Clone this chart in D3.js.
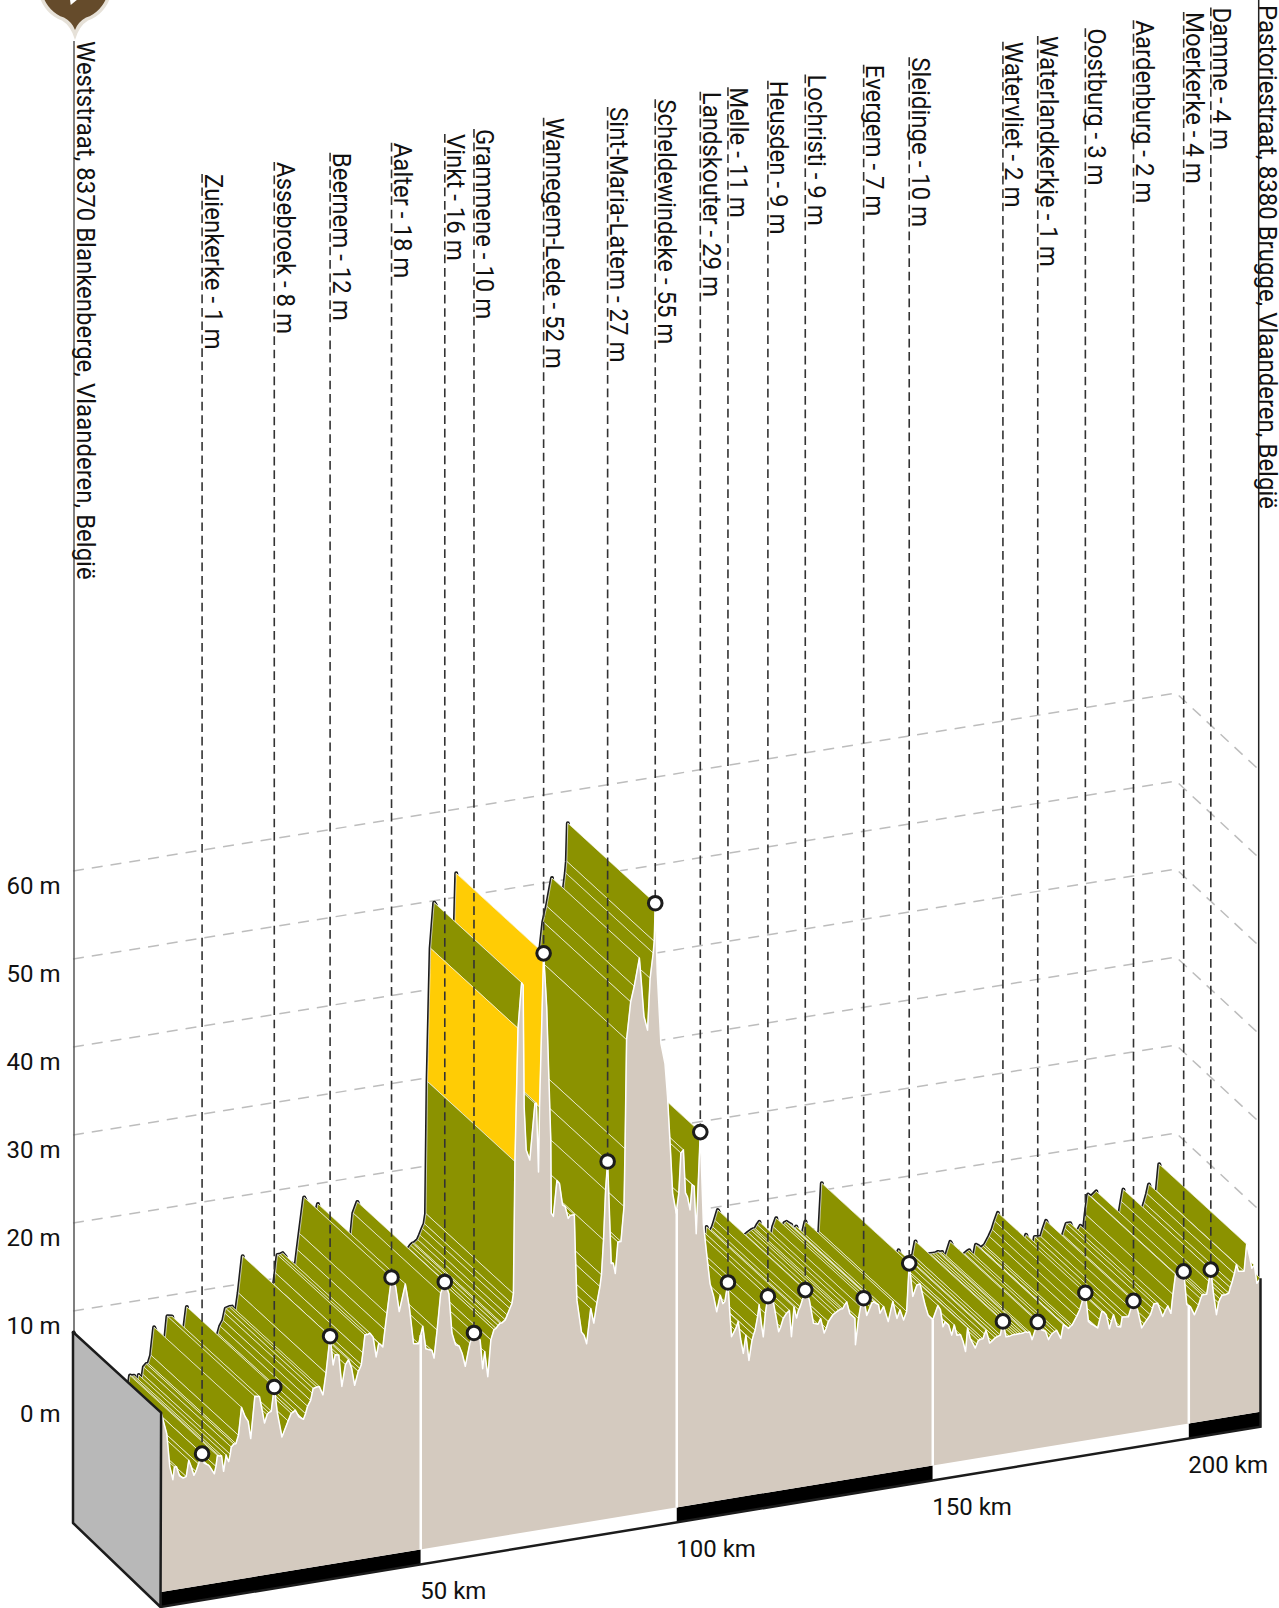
<!DOCTYPE html>
<html>
<head>
<meta charset="utf-8">
<style>
  html, body { margin: 0; padding: 0; background: #fff; overflow: hidden; }
  svg { display: block; font-family: Roboto, sans-serif; }
</style>
</head>
<body>
<svg width="1279" height="1608"></svg>
<script src="https://d3js.org/d3.v7.min.js"></script>
<script>
// route profile: km along the route / metres
var readKm = [-0.7,0.4,1.0,1.6,1.9,2.3,2.9,3.6,4.2,4.7,5.2,5.7,6.6,7.3,8.2,8.8,9.7,10.3,11.1,11.5,12.0,12.5,13.0,13.9,14.4,15.0,15.7,16.3,16.8,17.6,18.5,18.9,19.5,20.3,20.8,21.4,22.0,22.9,24.1,24.7,25.5,26.2,27.1,27.9,28.5,29.0,30.2,30.9,31.5,32.3,32.9,33.3,34.0,34.6,35.9,36.5,37.1,37.8,38.4,39.1,40.1,40.7,41.3,41.8,42.6,43.4,44.3,45.1,45.8,47.0,47.8,48.6,49.6,50.4,51.0,
  52.2,52.6,53.2,53.9,54.7,55.5,56.1,56.8,57.5,58.1,58.7,59.6,60.4,61.6,62.1,62.5,63.1,63.7,64.3,65.5,66.5,67.4,68.1,68.4,69.0,69.7,70.0,70.2,70.6,71.3,72.3,72.6,73.0,73.2,74.0,74.6,75.4,75.5,75.9,76.6,77.1,77.7,78.2,78.8,79.2,80.0,80.2,80.5,81.4,81.9,82.4,83.2,83.8,85.0,85.7,86.1,86.5,87.0,87.2,87.6,88.0,88.5,89.1,89.7,90.2,91.0,91.7,92.7,93.1,93.6,94.3,94.8,95.4,95.8,96.2,96.9,97.7,98.2,98.7,99.2,99.9,100.4,100.8,101.3,101.7,102.1,102.6,103.0,103.4,103.8,104.6,
  105.2,105.9,106.5,107.2,107.8,108.5,109.0,109.4,110.0,110.4,110.7,111.4,112.0,112.5,113.0,113.5,114.1,114.7,115.3,116.1,116.9,117.8,118.9,119.4,119.9,120.8,122.0,122.4,122.9,123.4,124.1,125.1,125.9,126.7,127.6,128.1,128.8,129.6,130.5,131.6,132.4,133.2,133.8,134.8,134.9,135.5,136.5,137.1,137.8,138.5,139.4,139.7,140.4,141.3,142.2,143.0,143.6,144.3,144.9,145.4,146.1,146.9,147.5,148.5,149.1,150.0,
  151.0,151.5,152.0,152.4,153.1,153.7,154.2,154.7,155.4,155.9,156.4,156.8,157.3,158.3,158.9,159.8,160.4,161.1,162.2,163.2,163.7,164.3,165.6,167.1,168.9,169.4,170.5,171.3,172.0,172.6,173.3,174.2,175.0,175.5,176.5,177.2,178.1,179.8,180.4,181.4,182.2,183.0,183.9,184.5,185.3,186.0,186.7,187.0,188.2,189.2,190.0,190.8,191.8,192.5,193.2,193.9,194.9,195.9,196.5,197.4,198.0,199.0,199.6,200.3,201.1,201.9,202.6,203.5,204.3,204.8,205.4,205.8,206.5,207.8,208.4,209.3,209.7,210.8,211.3,211.9,212.3,212.8,213.3,214.0];
var readM = [6.6,4.1,0.3,-1.2,0.2,0.2,-0.9,-1.2,-1.1,0.7,-0.1,-1.1,0.1,1.2,-0.1,-0.4,-1.3,0.7,0.6,-1.2,0.6,-0.2,1.4,1.7,2.6,5.7,4.6,4.0,2.0,6.7,6.6,5.4,3.5,4.6,4.7,7.4,4.4,1.6,3.3,4.1,4.4,3.6,3.2,4.6,5.2,6.5,6.6,5.6,8.0,12.1,8.8,9.9,9.8,6.2,9.1,8.1,6.1,7.6,8.3,11.6,11.7,11.2,8.9,10.4,9.9,13.6,17.6,16.5,13.6,16.6,13.8,9.7,9.6,11.5,8.9,
  8.6,7.7,10.8,14.9,16.1,14.7,10.2,8.8,8.6,7.7,6.2,8.7,9.8,8.9,5.6,7.5,4.6,8.7,9.8,10.4,10.7,11.9,13.5,28.4,43.4,48.5,48.2,34.4,29.5,28.3,34.6,34.6,26.8,34.1,51.4,45.3,30.2,21.9,21.5,25.5,25.1,22.6,22.4,21.0,21.3,21.3,16.9,11.6,7.9,7.5,6.5,10.4,8.7,12.7,17.9,23.5,26.7,18.5,15.1,15.1,13.9,17.4,17.4,21.3,40.1,44.3,46.0,49.1,46.2,42.4,40.8,46.6,49.4,55.0,47.0,39.1,36.7,32.9,27.6,21.9,19.6,21.8,26.3,26.6,21.7,21.2,19.7,22.5,22.3,16.9,28.3,
  17.9,14.1,11.0,9.5,7.7,9.5,8.5,8.7,10.8,6.9,4.6,5.3,6.2,4.1,2.5,4.5,1.6,3.8,4.9,7.7,4.0,8.5,7.6,6.0,4.3,5.7,6.5,3.5,6.8,5.5,6.7,8.5,7.3,4.6,4.4,5.0,3.3,4.5,5.2,5.6,5.7,6.4,5.0,4.4,1.4,4.3,6.5,4.5,5.4,5.9,5.5,4.5,5.2,3.4,5.6,3.6,4.5,3.3,4.2,9.6,5.8,7.0,7.1,4.6,3.4,2.8,
  4.3,3.8,1.8,2.3,1.9,0.7,1.8,0.6,0.6,-0.2,-1.4,1.2,0,-1.2,-0.4,-0.3,0.6,-0.9,-0.4,-0.2,1.3,-0.5,-0.4,-0.4,-0.4,-1.3,0.6,-0.4,-0.6,-1.6,-1.0,-0.7,-1.7,-0.2,-0.7,-0.4,0.5,3.0,-0.3,-0.8,-1.2,0.6,0.1,-1.5,0,-1.4,-1.5,-0.4,-0.5,1.2,0.1,-2.0,-1.2,-0.7,0.5,0.5,-1.1,0,-0.9,3.4,3.1,3.6,-0.2,-0.5,-1.5,-0.5,0.6,0.6,3.3,0.6,-1.9,-0.6,0.2,0.3,1.4,3.4,2.6,2.5,5.5,4.0,2.7,3.0,0.9,1.4];

// second pass of readings, where the picture shows the hatching closer together
var moreKm = [6.1,7.7,8.5,9.4,10.0,10.7,12.2,12.8,13.5,20.0,25.1,26.6,27.5,28.8,29.7,35.3,38.1,38.7,39.6,42.2,43.0,64.7,65.1,65.8,66.9,67.8,84.4,85.3,89.9,95.6,
  111.7,115.0,115.8,116.5,117.3,120.3,121.4,123.8,124.5,129.2,131.0,132.0,132.8,135.9,138.1,138.9,
  152.8,155.0,157.8,158.6,159.3,160.1,160.8,161.6,162.7,164.9,166.1,166.6,167.6,168.1,168.5,170.9,173.0,173.8,176.0,176.9,178.7,179.2,
  180.9,181.8,182.6,183.4,184.9,188.7,191.3,192.9,194.4,195.4,196.9,200.7,202.3,203.0,203.9,206.1,207.1,208.1,208.9];
var moreM = [-0.7,0.1,-0.2,-1.0,-0.5,0.6,0.2,0.6,1.7,4.4,4.2,3.4,3.8,6.0,6.6,8.6,7.9,9.6,11.6,10.2,11.8,9.9,10.2,10.4,11.2,12.4,10.9,14.0,27.8,50.7,
  5.7,4.4,6.4,5.6,6.6,4.8,6.2,6.4,7.4,3.8,5.4,5.7,6.1,5.6,5.8,5.7,
  2.1,0.6,-0.6,-0.8,-0.3,0.2,-0.2,-0.7,-0.3,-0.5,-0.4,-0.4,-0.4,-0.3,-0.4,0.1,-1.2,-0.8,-0.4,-0.5,1.2,2.1,
  -0.6,-1.0,-0.3,0.5,-0.7,0.4,-1.6,0,-0.3,-0.5,1.2,-1.0,0.2,0.6,2.0,-0.2,0.2,0.9,2.4];

// the two steep stretches drawn yellow (km where the stretch starts)
var steepKm = [68.4, 73.2];

var placeNames = ["Zuienkerke - 1 m","Assebroek - 8 m","Beernem - 12 m","Aalter - 18 m","Vinkt - 16 m","Grammene - 10 m","Wannegem-Lede - 52 m","Sint-Maria-Latem - 27 m","Scheldewindeke - 55 m","Landskouter - 29 m","Melle - 11 m","Heusden - 9 m","Lochristi - 9 m","Evergem - 7 m","Sleidinge - 10 m","Watervliet - 2 m","Waterlandkerkje - 1 m","Oostburg - 3 m","Aardenburg - 2 m","Moerkerke - 4 m","Damme - 4 m"];
var placeKm = [7.3,21.4,32.3,44.3,54.7,60.4,74.0,86.5,95.8,104.6,110.0,117.8,125.1,136.5,145.4,163.7,170.5,179.8,189.2,199.0,204.3];

var kmTicks = [50,100,150,200];
var elevTicks = [0,10,20,30,40,50,60];
var gridElev = [10,20,30,40,50,60];
var startName = "Weststraat, 8370 Blankenberge, Vlaanderen, België";
var endName = "Pastoriestraat, 8380 Brugge, Vlaanderen, België";

// merge both passes, in km order
var allKm = readKm.concat(moreKm), allM = readM.concat(moreM);
var order = d3.range(allKm.length).sort(function(a,b){ return allKm[a]-allKm[b]; });
var profileKm = order.map(function(i){ return allKm[i]; });
var profileM = order.map(function(i){ return allM[i]; });

var svg = d3.select("svg");

var x = d3.scaleLinear().domain([0,200]).range([164.7,1188.8]);
// height of a point above the slanted base line
var h = d3.scaleLinear().domain([0,60]).range([136,667]);
// elevation on the back wall, left side
var gridY = d3.scaleLinear().domain([0,60]).range([1399,871]);

var depth = [-87.4,-80];
var kmStart = profileKm[0], kmEnd = profileKm[profileKm.length-1];

function baseY(km){ return 1607 - 0.164*(x(km)-161); }
function front(i){ return [x(profileKm[i]), baseY(profileKm[i]) - h(profileM[i])]; }
function back(i){ var p = front(i); return [p[0]+depth[0], p[1]+depth[1]]; }
function elevAt(km){
  var i = d3.bisectLeft(profileKm, km);
  if (i == 0) return profileM[0];
  if (i >= profileKm.length) return profileM[profileM.length-1];
  var t = (km-profileKm[i-1])/(profileKm[i]-profileKm[i-1]);
  return profileM[i-1] + t*(profileM[i]-profileM[i-1]);
}

var idx = d3.range(profileKm.length);
var line = d3.line();

// back wall grid
svg.append("g").selectAll("path").data(gridElev).enter().append("path")
  .attr("d", function(d){
    var y0 = gridY(d);
    return line([[73,y0],[1176,y0-178],[1257,y0-103]]);
  })
  .attr("fill","none").attr("stroke","#bdbdbd").attr("stroke-width",1.5).attr("stroke-dasharray","11,8");

// outer verticals
svg.append("line").attr("x1",74).attr("x2",74).attr("y1",41).attr("y2",1332).attr("stroke","#555").attr("stroke-width",1.5);
svg.append("line").attr("x1",1258.7).attr("x2",1258.7).attr("y1",0).attr("y2",front(idx.length-1)[1]).attr("stroke","#222").attr("stroke-width",1.5);

// top edge of the ribbon, the polygons then cover its inner half
svg.append("path").attr("d", line(idx.map(back)))
  .attr("fill","none").attr("stroke","#1c1c1c").attr("stroke-width",4).attr("stroke-linejoin","round").attr("stroke-linecap","round");

// ribbon: nearest km is painted last
var segs = d3.range(idx.length-1).reverse();
svg.append("g").selectAll("path").data(segs).enter().append("path")
  .attr("d", function(i){ return line([front(i),front(i+1),back(i+1),back(i)])+"Z"; })
  .attr("fill", function(i){ return steepKm.indexOf(profileKm[i])>=0 ? "#ffcc05" : "#8b9200"; })
  .attr("stroke","#fff").attr("stroke-width",0.75).attr("stroke-opacity",0.85).attr("stroke-linejoin","round");

// km strip under the front face
var stripH = 15;
var bands = [[kmStart,50,"#000"],[50,100,"#fff"],[100,150,"#000"],[150,200,"#fff"],[200,kmEnd,"#000"]];
svg.append("g").selectAll("path").data(bands).enter().append("path")
  .attr("d", function(b){
    return line([[x(b[0]),baseY(b[0])],[x(b[1]),baseY(b[1])],[x(b[1]),baseY(b[1])-stripH],[x(b[0]),baseY(b[0])-stripH]])+"Z";
  })
  .attr("fill", function(b){ return b[2]; });

// front face
var areaPts = idx.map(front).concat([[x(kmEnd),baseY(kmEnd)-stripH],[x(kmStart),baseY(kmStart)-stripH]]);
svg.append("path").attr("d", line(areaPts)+"Z").attr("fill","#d4cabf");
svg.append("path").attr("d", line(idx.map(front))).attr("fill","none").attr("stroke","#fff").attr("stroke-width",1.5).attr("stroke-linejoin","round");

// white km lines on the front face
svg.append("g").selectAll("line").data(kmTicks).enter().append("line")
  .attr("x1",function(d){ return x(d); }).attr("x2",function(d){ return x(d); })
  .attr("y1",function(d){ return baseY(d)-h(elevAt(d)); })
  .attr("y2",function(d){ return baseY(d)-stripH; })
  .attr("stroke","#fff").attr("stroke-width",2.5);

// end wall
svg.append("path").attr("d", line([[73,1332],front(0),[160.5,baseY(kmStart)],[73,1523]])+"Z")
  .attr("fill","#b8b8b8").attr("stroke","#1c1c1c").attr("stroke-width",2.5).attr("stroke-linejoin","round");

// base edge and right end
svg.append("path").attr("d", line([[160.5,baseY(kmStart)],[x(kmEnd),baseY(kmEnd)],front(idx.length-1)]))
  .attr("fill","none").attr("stroke","#1c1c1c").attr("stroke-width",2.5);

// places: dashed drop lines, names, markers
function labelY(px){ return 174 - 0.165*(px-202); }
// the names are narrower than plain Roboto at this height
function nameTransform(px, py){ return "translate("+px+","+py+") rotate(90) scale(0.905,1)"; }

var places = svg.append("g").selectAll("g").data(placeKm).enter().append("g");
places.append("line")
  .attr("x1",function(d){ return x(d); }).attr("x2",function(d){ return x(d); })
  .attr("y1",function(d){ return labelY(x(d)); })
  .attr("y2",function(d){ return baseY(d)-h(elevAt(d)); })
  .attr("stroke","#333").attr("stroke-width",1.6).attr("stroke-dasharray","8.7,4.7");
places.append("circle")
  .attr("cx",function(d){ return x(d); })
  .attr("cy",function(d){ return baseY(d)-h(elevAt(d)); })
  .attr("r",6.8).attr("fill","#fff").attr("stroke","#1c1c1c").attr("stroke-width",3);
places.append("text")
  .attr("transform",function(d){ return nameTransform(x(d)+2.5, labelY(x(d))); })
  .attr("font-size",26.5).attr("fill","#111")
  .text(function(d,i){ return placeNames[i]; });

svg.append("text").attr("transform",nameTransform(76.5,41)).attr("font-size",26.5).attr("fill","#111").text(startName);
svg.append("text").attr("transform",nameTransform(1259.4,5)).attr("font-size",26.5).attr("fill","#111").text(endName);

// elevation labels
var yAxis = d3.axisLeft(gridY).tickValues(elevTicks).tickSize(0).tickPadding(0)
  .tickFormat(function(d){ return d+" m"; });
var yg = svg.append("g").attr("transform","translate(60.5,15)").call(yAxis);
yg.select(".domain").remove();
yg.selectAll("text").attr("font-size",24).attr("font-family","Roboto, sans-serif").attr("fill","#111");

// km labels
svg.append("g").selectAll("text").data(kmTicks).enter().append("text")
  .attr("x",function(d){ return x(d)-0.5; })
  .attr("y",function(d){ return baseY(d)+26; })
  .attr("dy","0.35em").attr("font-size",24).attr("fill","#111")
  .text(function(d){ return d+" km"; });

// start pin, cut off by the top of the page
var pin = svg.append("g").attr("transform","translate(75,-14)");
pin.append("path").attr("d","M-13,34.6A37,37 0 1 1 13,34.6Q4,40 0,54Q-4,40 -13,34.6Z").attr("fill","#e6e1d8");
pin.append("path").attr("d","M-11,31.6A33.5,33.5 0 1 1 11,31.6Q3,36 0,44Q-3,36 -11,31.6Z").attr("fill","#654b2b");
pin.append("path").attr("d","M-8,-10L14,4L-4.3,19Z").attr("fill","#fff");
</script>
</body>
</html>
